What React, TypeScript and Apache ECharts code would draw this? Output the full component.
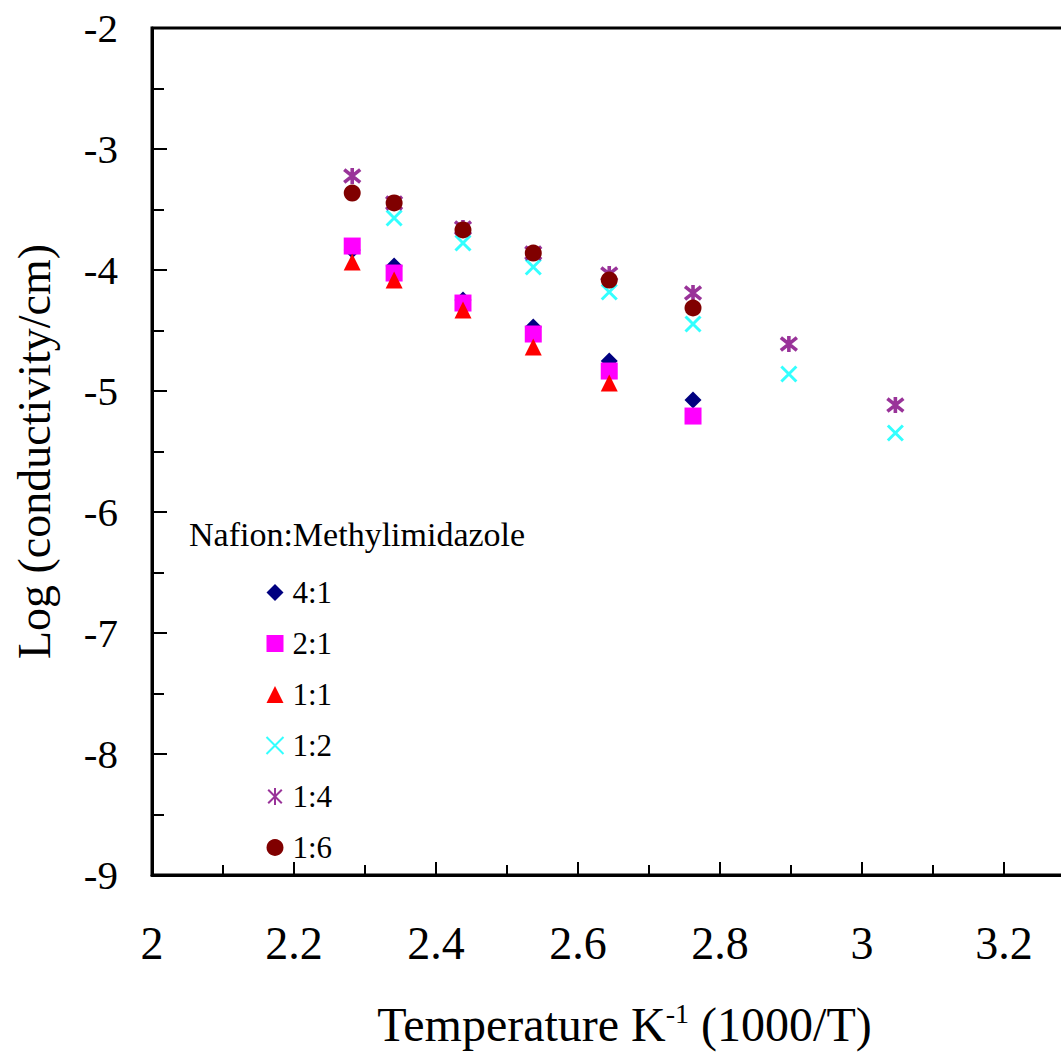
import React, { useEffect, useRef } from "react";
import * as echarts from "echarts";

const xCols = [2.282, 2.341, 2.438, 2.537, 2.644, 2.762, 2.897, 3.047];
const s41 = [-3.835, -3.967, -4.248, -4.471, -4.752, -5.074];
const s21 = [-3.802, -4.025, -4.273, -4.529, -4.835, -5.207];
const s11 = [-3.934, -4.083, -4.331, -4.636, -4.934];
const s12 = [null, -3.57, -3.777, -3.975, -4.182, -4.446, -4.86, -5.347];
const s14 = [-3.223, -3.446, -3.653, -3.86, -4.033, -4.19, -4.612, -5.116];
const s16 = [-3.364, -3.446, -3.669, -3.86, -4.083, -4.314];
const seriesNames = ["4:1", "2:1", "1:1", "1:2", "1:4", "1:6"];
const legendTitle = "Nafion:Methylimidazole";

const FONT = "'Liberation Serif', 'Times New Roman', serif";

function pairs(vals: (number | null)[]) {
  const out: number[][] = [];
  vals.forEach((v, i) => {
    if (v !== null && v !== undefined) out.push([xCols[i], v]);
  });
  return out;
}

export default function App() {
  const ref = useRef<HTMLDivElement>(null);
  useEffect(() => {
    if (!ref.current) return;
    const chart = echarts.init(ref.current, undefined, { renderer: "svg" });
    const crossPath = "path://M0,0L10,10M0,10L10,0";
    const starPath = "path://M1,1L9,9M1,9L9,1M5,0L5,10";
    const mk = (name: string, data: number[][], symbol: string, color: string, stroke = 0, size = 17) => ({
      name,
      type: "scatter",
      data,
      symbol,
      symbolSize: size,
      itemStyle: stroke
        ? { color: "none", borderColor: color, borderWidth: stroke }
        : { color, opacity: 1 },
    });
    chart.setOption({
      animation: false,
      backgroundColor: "#fff",
      textStyle: { fontFamily: FONT },
      grid: { left: 152, top: 28, right: 25, bottom: 182, show: true, borderColor: "#000", borderWidth: 3 },
      xAxis: {
        type: "value",
        min: 2,
        max: 3.3,
        interval: 0.2,
        name: "{a|Temperature K}{b|-1}{a| (1000/T)}",
        nameLocation: "middle",
        nameGap: 124,
        nameTextStyle: {
          padding: [0, 0, 0, 22],
          rich: {
            a: { fontSize: 48, fontFamily: FONT, color: "#000", lineHeight: 50 },
            b: { fontSize: 28, fontFamily: FONT, color: "#000", verticalAlign: "top", lineHeight: 50, padding: [0, 0, 16, 0] },
          },
        },
        axisLine: { show: true, onZero: false, lineStyle: { color: "#000", width: 3 } },
        axisTick: { show: true, inside: true, length: 13, lineStyle: { color: "#000", width: 2 } },
        minorTick: { show: true, splitNumber: 2, length: 10, lineStyle: { color: "#000", width: 2 } },
        splitLine: { show: false },
        axisLabel: {
          fontSize: 46,
          fontFamily: FONT,
          color: "#000",
          margin: 45,
          formatter: (v: number) => (Math.abs(v * 5 - Math.round(v * 5)) < 1e-6 ? String(Math.round(v * 10) / 10) : ""),
        },
      },
      yAxis: {
        type: "value",
        min: -9,
        max: -2,
        interval: 1,
        name: "Log (conductivity/cm)",
        nameLocation: "middle",
        nameGap: 95,
        nameTextStyle: { fontSize: 46, fontFamily: FONT, color: "#000" },
        axisLine: { show: true, onZero: false, lineStyle: { color: "#000", width: 3 } },
        axisTick: { show: true, inside: true, length: 15, lineStyle: { color: "#000", width: 2 } },
        minorTick: { show: true, splitNumber: 2, length: 12, lineStyle: { color: "#000", width: 2 } },
        splitLine: { show: false },
        axisLabel: { fontSize: 41, fontFamily: FONT, color: "#000", margin: 34 },
      },
      legend: {
        orient: "vertical",
        left: 264,
        top: 577,
        padding: 0,
        itemWidth: 17,
        itemHeight: 17,
        itemGap: 20,
        textStyle: { fontSize: 31, fontFamily: FONT, color: "#000", lineHeight: 30, padding: [0, 0, 0, 4] },
        data: seriesNames,
      },
      graphic: [
        {
          type: "text",
          left: 189,
          top: 517,
          style: { text: legendTitle, fontSize: 34, fontFamily: FONT, fill: "#000" },
        },
      ],
      series: [
        mk(seriesNames[0], pairs(s41), "diamond", "#000080"),
        mk(seriesNames[1], pairs(s21), "rect", "#FF00FF"),
        mk(seriesNames[2], pairs(s11), "triangle", "#FF0000"),
        mk(seriesNames[3], pairs(s12), crossPath, "#00FFFF", 3, 15),
        mk(seriesNames[4], pairs(s14), starPath, "#800080", 3.6, 16),
        mk(seriesNames[5], pairs(s16), "circle", "#800000"),
      ],
    });
    return () => chart.dispose();
  }, []);
  return (
    <div style={{ position: "fixed", left: 0, top: 0, width: 1061, height: 1057, overflow: "hidden", background: "#fff" }}>
      <div ref={ref} style={{ width: 1100, height: 1057 }} />
    </div>
  );
}
